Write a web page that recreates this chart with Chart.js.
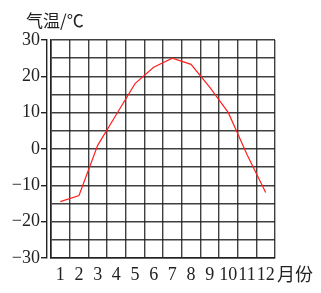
<!DOCTYPE html>
<html>
<head>
<meta charset="utf-8">
<script src="https://cdn.jsdelivr.net/npm/chart.js@4/dist/chart.umd.min.js"></script>
<style>
  body { margin: 0; background: #fff; }
  canvas { display: block; }
</style>
</head>
<body>
<canvas id="myChart" width="321" height="293"></canvas>
<script>
// monthly mean air temperature
const months = ['1', '2', '3', '4', '5', '6', '7', '8', '9', '10', '11', '12'];
const temps = [-14.5, -12.8, 1, 9.5, 18, 22.5, 25, 23.3, 17, 10, -1.5, -12];

const yTitle = '气温/℃';
const xTitle = '月份';

const gridColor = 'rgba(30,30,30,0.85)';
const serif = '"Liberation Serif", "Times New Roman", serif';
const cjk = '"Noto Sans CJK SC", sans-serif';

Chart.defaults.font.family = serif;

// axis titles sit outside the axes, so draw them after the chart
const axisTitles = {
  id: 'axisTitles',
  afterDraw(chart) {
    const ctx = chart.ctx;
    const area = chart.chartArea;
    ctx.save();
    ctx.fillStyle = '#222';
    ctx.textBaseline = 'middle';
    ctx.font = '17px ' + cjk;
    ctx.textAlign = 'left';
    ctx.fillText(yTitle, 26, 21);
    ctx.font = '18px ' + cjk;
    ctx.fillText(xTitle, area.right + 2, area.bottom + 16);
    ctx.restore();
  }
};

function makeChart() {
  new Chart(document.getElementById('myChart'), {
    type: 'line',
    data: {
      labels: months,
      datasets: [{
        data: temps,
        borderColor: '#ff2020',
        borderWidth: 1.2,
        pointRadius: 0,
        tension: 0,
        fill: false
      }]
    },
    options: {
      responsive: false,
      animation: false,
      layout: { padding: { top: 40, right: 46, left: 0, bottom: 0 } },
      plugins: {
        legend: { display: false },
        tooltip: { enabled: false }
      },
      scales: {
        x: {
          type: 'category',
          offset: true,
          grid: { offset: true, color: gridColor, lineWidth: 1.4, drawTicks: false },
          border: { color: '#222', width: 1.6 },
          ticks: {
            autoSkip: false,
            maxRotation: 0,
            padding: 6,
            color: '#222',
            font: { family: serif, size: 18 }
          },
          afterFit(scale) { scale.height = 35; }
        },
        y: {
          min: -30,
          max: 30,
          weight: 0,
          grid: { color: gridColor, lineWidth: 1.4, drawTicks: false },
          border: { color: '#222', width: 1.6 },
          ticks: { display: false, stepSize: 5 },
          afterFit(scale) { scale.width = 4; }
        },
        yl: {
          position: 'left',
          min: -30,
          max: 30,
          weight: 1,
          grid: {
            drawOnChartArea: false,
            tickLength: 6,
            color: (c) => (c.tick && c.tick.value % 10 === 0) ? '#222' : 'rgba(0,0,0,0)',
            lineWidth: 1.4
          },
          border: { color: '#222', width: 1.4 },
          ticks: {
            stepSize: 5,
            padding: 1,
            color: '#222',
            font: { family: serif, size: 18 },
            callback: (v) => v % 10 === 0 ? String(v).replace('-', '−') : ''
          },
          afterFit(scale) { scale.width = 47; }
        }
      }
    },
    plugins: [axisTitles]
  });
}

// make sure the faces are ready before the canvas text is drawn
Promise.all([
  document.fonts.load('18px "Liberation Serif"', '0123456789−'),
  document.fonts.load('17px "Noto Sans CJK SC"', yTitle + xTitle)
]).then(makeChart, makeChart);
</script>
</body>
</html>
